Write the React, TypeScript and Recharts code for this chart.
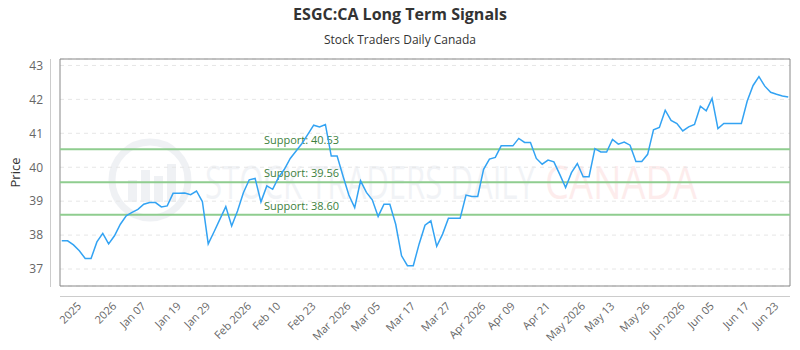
import React from 'react';
import { LineChart, Line, XAxis, YAxis, CartesianGrid, ReferenceLine, ReferenceArea } from 'recharts';

const prices = [
  37.83, 37.83, 37.71, 37.54, 37.31, 37.31, 37.8, 38.05, 37.74, 37.98,
  38.32, 38.57, 38.67, 38.76, 38.91, 38.96, 38.96, 38.83, 38.86, 39.23,
  39.23, 39.24, 39.19, 39.3, 38.99, 37.74, 38.1, 38.47, 38.84, 38.27,
  38.71, 39.25, 39.63, 39.67, 38.98, 39.45, 39.35, 39.7, 39.94, 40.26,
  40.48, 40.7, 40.97, 41.24, 41.19, 41.26, 40.33, 40.33, 39.74, 39.18,
  38.81, 39.6, 39.26, 39.04, 38.55, 38.91, 38.91, 38.32, 37.39, 37.1,
  37.1, 37.74, 38.29, 38.42, 37.67, 38.03, 38.5, 38.5, 38.5, 39.18,
  39.14, 39.14, 39.94, 40.24, 40.29, 40.63, 40.63, 40.63, 40.85, 40.73,
  40.73, 40.26, 40.09, 40.21, 40.16, 39.79, 39.4, 39.84, 40.11, 39.72,
  39.72, 40.55, 40.45, 40.45, 40.82, 40.68, 40.74, 40.65, 40.17, 40.17,
  40.38, 41.1, 41.17, 41.68, 41.38, 41.29, 41.07, 41.19, 41.26, 41.8,
  41.66, 42.03, 41.14, 41.29, 41.29, 41.29, 41.29, 41.95, 42.41, 42.67,
  42.39, 42.21, 42.15, 42.1, 42.07,
];

const tickIndices = [3, 9, 14, 20, 25, 32, 37, 43, 49, 54, 60, 66, 72, 77, 83, 89, 94, 100, 106, 111, 117, 122];
const tickLabels = [
  '2025', '2026', 'Jan 07', 'Jan 19', 'Jan 29', 'Feb 2026', 'Feb 10', 'Feb 23',
  'Mar 2026', 'Mar 05', 'Mar 17', 'Mar 27', 'Apr 2026', 'Apr 09', 'Apr 21',
  'May 2026', 'May 13', 'May 26', 'Jun 2026', 'Jun 05', 'Jun 17', 'Jun 23',
];
const supportLevels = [40.53, 39.56, 38.6];
const yTicks = [37, 38, 39, 40, 41, 42, 43];

const yDomain: [number, number] = [36.5, 43.19];
const xDomain: [number, number] = [-0.3, prices.length - 1 + 0.3];

const data = prices.map((price, i) => ({ i, price }));

const FONT = "'Open Sans', 'Noto Sans', sans-serif";

const labelFor = (v: number) => {
  const k = tickIndices.indexOf(v);
  return k >= 0 ? tickLabels[k] : '';
};

const XTick = (props: any) => {
  const { x, y, payload } = props;
  return (
    <text
      x={x}
      y={y}
      transform={`rotate(-45, ${x}, ${y})`}
      textAnchor="end"
      dy="0.35em"
      fill="#666"
      fontSize={11}
      fontFamily={FONT}
    >
      {labelFor(payload.value)}
    </text>
  );
};

const SupportLabel = (props: any) => {
  const { viewBox, value } = props;
  return (
    <text
      x={viewBox.x + 204}
      y={viewBox.y - 5}
      fill="#3d7f3d"
      fontSize={11}
      fontFamily={FONT}
    >
      {value}
    </text>
  );
};

const Watermark = () => (
  <svg width={800} height={350} style={{ position: 'absolute', left: 0, top: 0 }}>
    <g opacity={0.1}>
      <circle cx={150} cy={180} r={38} fill="none" stroke="#6a7f9f" strokeWidth={7} />
      <rect x={128} y={180} width={9} height={22} fill="#6a7f9f" />
      <rect x={141} y={170} width={9} height={32} fill="#6a7f9f" />
      <rect x={154} y={176} width={9} height={26} fill="#6a7f9f" />
      <rect x={167} y={164} width={9} height={38} fill="#6a7f9f" />
      <text x={205} y={199} fontSize={46} fontFamily={FONT} fill="#7d8fb0" textLength={330} lengthAdjust="spacingAndGlyphs">
        STOCK TRADERS DAILY
      </text>
      <text x={545} y={199} fontSize={46} fontFamily={FONT} fill="#f05050" textLength={152} lengthAdjust="spacingAndGlyphs">
        CANADA
      </text>
    </g>
  </svg>
);

export default function App() {
  return (
    <div style={{ position: 'absolute', left: 0, top: 0, width: 800, height: 350, background: '#fff', fontFamily: FONT }}>
      <Watermark />
      <div style={{ position: 'absolute', left: 0, top: 3, width: 800, textAlign: 'center', fontSize: 16, fontWeight: 700, color: '#333' }}>
        ESGC:CA Long Term Signals
      </div>
      <div style={{ position: 'absolute', left: 0, top: 31, width: 800, textAlign: 'center', fontSize: 12, color: '#333' }}>
        Stock Traders Daily Canada
      </div>
      <div style={{ position: 'absolute', left: 50, top: 59, width: 1, height: 228, background: '#ccc' }} />
      <div style={{ position: 'absolute', left: 60, top: 296, width: 730, height: 1, background: '#ccc' }} />
      <div style={{ position: 'absolute', left: 0, top: 0 }}>
        <LineChart width={800} height={350} data={data} margin={{ top: 59, right: 10, bottom: 0, left: 0 }}>
          <CartesianGrid vertical={false} stroke="#e6e6e6" strokeDasharray="4 4" />
          <XAxis
            type="number"
            dataKey="i"
            domain={xDomain}
            ticks={tickIndices}
            interval={0}
            tick={<XTick />}
            axisLine={false}
            tickLine={false}
            tickSize={0}
            tickMargin={18}
            height={64}
          />
          <YAxis
            domain={yDomain}
            ticks={yTicks}
            width={60}
            axisLine={false}
            tickLine={false}
            tickSize={0}
            tickMargin={17}
            tick={{ fill: '#666', fontSize: 12, fontFamily: FONT }}
            label={{ value: 'Price', angle: -90, position: 'insideLeft', offset: 15, style: { textAnchor: 'middle', fill: '#333', fontSize: 13, fontFamily: FONT } }}
          />
          <ReferenceArea x1={xDomain[0]} x2={xDomain[1]} y1={yDomain[0]} y2={yDomain[1]} fill="none" stroke="#888" strokeWidth={1} ifOverflow="visible" />
          {supportLevels.map((lvl) => (
            <ReferenceLine
              key={lvl}
              y={lvl}
              stroke="#8fcd8f"
              strokeWidth={2}
              label={<SupportLabel value={`Support: ${lvl.toFixed(2)}`} />}
            />
          ))}
          <Line type="linear" dataKey="price" stroke="#33a3f3" strokeWidth={1.5} dot={false} isAnimationActive={false} />
        </LineChart>
      </div>
    </div>
  );
}
